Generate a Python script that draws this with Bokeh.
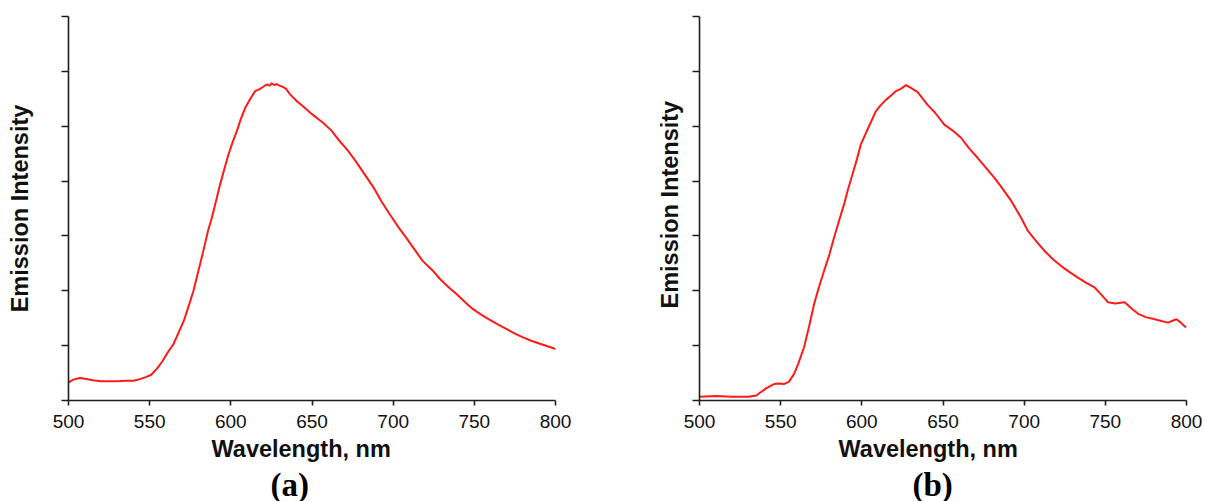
from bokeh.plotting import figure
from bokeh.layouts import row
from bokeh.models import FixedTicker, Range1d, Title, CustomJSTickFormatter
from bokeh.embed import file_html
from bokeh.resources import INLINE

# ---- data ----
wl_a = [500, 503, 507, 511, 515, 520, 525, 530, 535, 540, 544, 548, 551, 554.5, 558, 561,
        564.7, 568, 571, 574, 577, 580, 583, 586, 588.3, 591, 593.4, 596, 598.5, 601, 603.7,
        606, 608.8, 612, 615, 618, 620, 622, 624, 625, 627, 628, 630, 632, 634, 636.5, 640.5, 644.6,
        650, 657, 662, 667, 672, 677, 682, 688, 693, 698, 703, 708, 713, 718, 724, 729,
        734, 739, 744, 749, 754, 759, 765, 770, 775, 780, 785, 790, 795, 800]
int_a = [0.33, 0.38, 0.41, 0.39, 0.37, 0.35, 0.35, 0.35, 0.36, 0.36, 0.39, 0.43, 0.47, 0.58, 0.72, 0.87,
         1.03, 1.25, 1.45, 1.72, 2.00, 2.36, 2.72, 3.10, 3.33, 3.65, 3.94, 4.22, 4.48, 4.70, 4.91,
         5.12, 5.33, 5.50, 5.64, 5.68, 5.72, 5.76, 5.74, 5.78, 5.75, 5.77, 5.74, 5.72, 5.68, 5.58, 5.46, 5.36,
         5.22, 5.06, 4.92, 4.73, 4.56, 4.36, 4.14, 3.88, 3.62, 3.39, 3.17, 2.97, 2.76, 2.55, 2.38, 2.21,
         2.07, 1.94, 1.80, 1.67, 1.57, 1.48, 1.38, 1.30, 1.22, 1.15, 1.09, 1.04, 0.99, 0.94]

wl_b = [500, 510, 520, 530, 535, 537.7, 541, 545.9, 549, 552, 555, 558.2, 561, 564.4, 567.5,
        570.6, 573.5, 576.7, 580, 582.9, 586, 589.1, 591.5, 594.2, 597, 599.4, 603.5, 608.6,
        611.5, 614.8, 618, 621, 624, 627.2, 630.2, 634.4, 640.5, 645, 650.8, 656, 661.1, 666,
        671.4, 676.5, 681.7, 687, 692, 698.1, 702.3, 707.5, 712.5, 717.5, 722.8, 728, 733.1,
        738, 743.4, 747.5, 751.7, 756, 761.9, 766, 770.2, 775, 780.4, 784.5, 788.7, 791,
        793.8, 796.5, 799, 800]
int_b = [0.07, 0.08, 0.07, 0.07, 0.09, 0.15, 0.22, 0.30, 0.31, 0.30, 0.34, 0.48, 0.68, 0.97, 1.35,
         1.76, 2.06, 2.36, 2.66, 2.97, 3.28, 3.58, 3.85, 4.12, 4.40, 4.67, 4.94, 5.27,
         5.38, 5.48, 5.56, 5.64, 5.68, 5.75, 5.70, 5.62, 5.39, 5.25, 5.03, 4.92, 4.79, 4.60,
         4.42, 4.24, 4.06, 3.85, 3.64, 3.33, 3.09, 2.90, 2.73, 2.58, 2.45, 2.34, 2.24,
         2.15, 2.06, 1.93, 1.79, 1.77, 1.79, 1.68, 1.58, 1.52, 1.48, 1.45, 1.42, 1.45,
         1.48, 1.42, 1.35, 1.33]

x_ticks = [500, 550, 600, 650, 700, 750, 800]
y_ticks = [0, 1, 2, 3, 4, 5, 6, 7]
x_label = "Wavelength, nm"
y_label = "Emission Intensity"
panel_tags = ["(a)", "(b)"]

AX = "#1e1e1e"
SANS = "Liberation Sans"
SERIF = "Liberation Serif"


def make_panel(wl, inten, tag, left_border, right_border, ylab_mode, ylab_x, ylab_y,
               xlab_off, tag_off):
    p = figure(frame_width=487, frame_height=384, output_backend="svg", toolbar_location=None,
               x_range=Range1d(500, 800), y_range=Range1d(0, 7),
               min_border_left=left_border, min_border_right=right_border,
               min_border_top=16, min_border_bottom=0)
    p.outline_line_color = None
    p.background_fill_color = "white"
    p.border_fill_color = "white"
    p.grid.visible = False
    p.line(wl, inten, line_color="#ff1a1a", line_width=2)

    xa = p.xaxis[0]
    xa.ticker = FixedTicker(ticks=x_ticks)
    xa.minor_tick_line_color = None
    xa.major_tick_in = 0
    xa.major_tick_out = 5
    xa.axis_line_color = AX
    xa.axis_line_width = 1.6
    xa.major_tick_line_color = AX
    xa.major_tick_line_width = 1.6
    xa.major_label_text_font = SANS
    xa.major_label_text_font_size = "19px"
    xa.major_label_text_color = "#111111"
    xa.major_label_standoff = 9

    ya = p.yaxis[0]
    ya.ticker = FixedTicker(ticks=y_ticks)
    ya.formatter = CustomJSTickFormatter(code="return ''")
    ya.minor_tick_line_color = None
    ya.major_tick_in = 0
    ya.major_tick_out = 7
    ya.axis_line_color = AX
    ya.axis_line_width = 1.6
    ya.major_tick_line_color = AX
    ya.major_tick_line_width = 1.6
    ya.major_label_standoff = 0

    if ylab_mode == "title":
        ty = Title(text=y_label, align="left", offset=ylab_y, vertical_align="bottom",
                   text_font=SANS, text_font_style="bold", text_font_size="23.5px",
                   text_color="#111111", standoff=ylab_x)
        p.add_layout(ty, "left")
    else:
        ya.axis_label = y_label
        ya.axis_label_text_font = SANS
        ya.axis_label_text_font_style = "bold"
        ya.axis_label_text_font_size = "23.5px"
        ya.axis_label_text_color = "#111111"
        ya.axis_label_standoff = ylab_x

    t1 = Title(text=x_label, align="left", offset=xlab_off, text_font=SANS,
               text_font_style="bold", text_font_size="23.5px", text_color="#111111", standoff=6)
    p.add_layout(t1, "below")
    t2 = Title(text=tag, align="left", offset=tag_off, text_font=SERIF,
               text_font_style="bold", text_font_size="33px", text_color="#000000", standoff=0)
    p.add_layout(t2, "below")
    return p


pa = make_panel(wl_a, int_a, panel_tags[0], 68, 75, "axis", 29, 0, 143, 202)
pb = make_panel(wl_b, int_b, panel_tags[1], 69, 20, "title", 20, 92, 139, 213)

layout = row(pa, pb)
open("out.html", "w").write(file_html(layout, INLINE))
